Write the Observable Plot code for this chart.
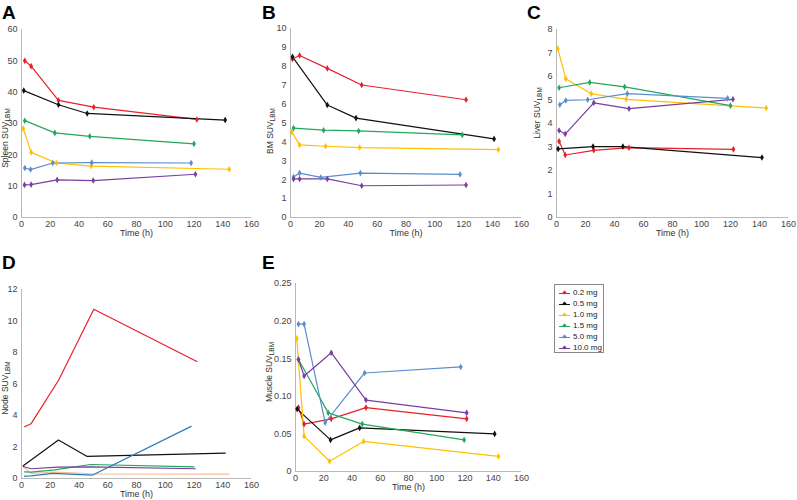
<!DOCTYPE html>
<html>
<head>
<meta charset="utf-8">
<script src="https://cdn.jsdelivr.net/npm/d3@7"></script>
<script src="https://cdn.jsdelivr.net/npm/@observablehq/plot@0.6"></script>
<style>
  html, body { margin: 0; padding: 0; background: #fff; }
  #wrap { position: relative; width: 797px; height: 500px; font-family: "Liberation Sans", Arial, sans-serif; overflow: hidden; }
  .panel { position: absolute; }
  .letter { position: absolute; font-weight: bold; font-size: 19px; line-height: 19px; color: #000; }
  .ylab { position: absolute; transform: translate(-50%, -50%) rotate(-90deg); white-space: nowrap; font-size: 8.5px; line-height: 9px; color: #333; }
  .ylab sub { font-size: 6.5px; line-height: 7px; vertical-align: -2px; }
  #legend { position: absolute; left: 554px; top: 284px; width: 50px; height: 69px; border: 1px solid #888; box-sizing: border-box; }
  .lg { position: absolute; left: 4px; height: 10px; font-size: 8px; line-height: 10px; color: #222; white-space: nowrap; }
  .sw { position: absolute; left: 0; top: 5px; width: 11px; height: 0; border-top: 1.2px solid; }
  .mk { position: absolute; left: 4px; top: 3px; width: 3px; height: 3px; transform: rotate(45deg); }
  .lt { position: absolute; left: 14px; top: 0; }
</style>
</head>
<body>
<div id="wrap"></div>
<script>
const doses = ["0.2 mg", "0.5 mg", "1.0 mg", "1.5 mg", "5.0 mg", "10.0 mg"];
const colorsMain = ["#e8202a", "#111111", "#ffc000", "#22a85a", "#5b8ccc", "#7a3ea0"];
const colorsNode = ["#e8202a", "#111111", "#f7bd92", "#22a85a", "#2a7ab8", "#7a3ea0"];
const timeTicks = [0, 20, 40, 60, 80, 100, 120, 140, 160];

// [dose, time (h), SUV]
const spleen = [
  ["0.2 mg", 2.3, 50.0], ["0.2 mg", 6.7, 48.3], ["0.2 mg", 25.7, 37.4], ["0.2 mg", 50.3, 35.2], ["0.2 mg", 122, 31.3],
  ["0.5 mg", 1.6, 40.5], ["0.5 mg", 25.7, 36.0], ["0.5 mg", 45.7, 33.2], ["0.5 mg", 141.7, 31.1],
  ["1.0 mg", 1.2, 28.4], ["1.0 mg", 6.7, 20.8], ["1.0 mg", 24.3, 17.4], ["1.0 mg", 48.5, 16.4], ["1.0 mg", 144.5, 15.4],
  ["1.5 mg", 2.3, 30.9], ["1.5 mg", 23.2, 27.0], ["1.5 mg", 47.5, 25.9], ["1.5 mg", 120, 23.5],
  ["5.0 mg", 2.3, 15.8], ["5.0 mg", 6.3, 15.3], ["5.0 mg", 21.8, 17.4], ["5.0 mg", 48.9, 17.5], ["5.0 mg", 118, 17.4],
  ["10.0 mg", 2.1, 10.4], ["10.0 mg", 6.7, 10.5], ["10.0 mg", 24.8, 12.0], ["10.0 mg", 49.9, 11.8], ["10.0 mg", 121, 13.8]
];
const marrow = [
  ["0.2 mg", 1.4, 8.39], ["0.2 mg", 6.3, 8.57], ["0.2 mg", 25.5, 7.89], ["0.2 mg", 49.3, 7.01], ["0.2 mg", 121.6, 6.23],
  ["0.5 mg", 1.4, 8.5], ["0.5 mg", 25.5, 5.95], ["0.5 mg", 45.4, 5.26], ["0.5 mg", 141, 4.16],
  ["1.0 mg", 0.9, 4.53], ["1.0 mg", 6.3, 3.84], ["1.0 mg", 24.3, 3.77], ["1.0 mg", 47.9, 3.70], ["1.0 mg", 144, 3.59],
  ["1.5 mg", 2.1, 4.73], ["1.5 mg", 22.9, 4.62], ["1.5 mg", 47.2, 4.58], ["1.5 mg", 119, 4.37],
  ["5.0 mg", 2.1, 2.14], ["5.0 mg", 6.3, 2.35], ["5.0 mg", 21, 2.12], ["5.0 mg", 48.4, 2.35], ["5.0 mg", 117.4, 2.28],
  ["10.0 mg", 2.1, 2.04], ["10.0 mg", 6.3, 2.04], ["10.0 mg", 25.5, 2.04], ["10.0 mg", 49.3, 1.68], ["10.0 mg", 121.6, 1.72]
];
const liver = [
  ["0.2 mg", 1.8, 3.24], ["0.2 mg", 6, 2.66], ["0.2 mg", 25.7, 2.86], ["0.2 mg", 50, 2.97], ["0.2 mg", 122, 2.90],
  ["0.5 mg", 1.1, 2.92], ["0.5 mg", 25.2, 3.02], ["0.5 mg", 45.8, 3.02], ["0.5 mg", 141.7, 2.55],
  ["1.0 mg", 0.9, 7.19], ["1.0 mg", 6.4, 5.90], ["1.0 mg", 24, 5.27], ["1.0 mg", 48.1, 5.03], ["1.0 mg", 144.6, 4.66],
  ["1.5 mg", 1.8, 5.52], ["1.5 mg", 22.9, 5.75], ["1.5 mg", 47, 5.56], ["1.5 mg", 120, 4.76],
  ["5.0 mg", 2.3, 4.80], ["5.0 mg", 6.4, 4.98], ["5.0 mg", 21.5, 5.01], ["5.0 mg", 48.8, 5.27], ["5.0 mg", 118, 5.07],
  ["10.0 mg", 1.8, 3.70], ["10.0 mg", 6, 3.55], ["10.0 mg", 25.7, 4.88], ["10.0 mg", 50, 4.63], ["10.0 mg", 121.7, 5.03]
];
const node = [
  ["0.2 mg", 2.1, 3.29], ["0.2 mg", 6.7, 3.48], ["0.2 mg", 25.7, 6.22], ["0.2 mg", 50.3, 10.75], ["0.2 mg", 122, 7.43],
  ["0.5 mg", 1.2, 0.81], ["0.5 mg", 25.7, 2.44], ["0.5 mg", 45.7, 1.40], ["0.5 mg", 141.7, 1.61],
  ["1.0 mg", 1.2, 0.74], ["1.0 mg", 6.7, 0.32], ["1.0 mg", 24.3, 0.40], ["1.0 mg", 48.5, 0.30], ["1.0 mg", 144.5, 0.28],
  ["1.5 mg", 2.1, 0.42], ["1.5 mg", 6.7, 0.40], ["1.5 mg", 23.2, 0.55], ["1.5 mg", 48, 0.89], ["1.5 mg", 120, 0.74],
  ["5.0 mg", 2.1, 0.15], ["5.0 mg", 6.7, 0.17], ["5.0 mg", 21.8, 0.32], ["5.0 mg", 49.2, 0.21], ["5.0 mg", 118, 3.31],
  ["10.0 mg", 1.2, 0.76], ["10.0 mg", 6.7, 0.62], ["10.0 mg", 24.8, 0.72], ["10.0 mg", 48, 0.74], ["10.0 mg", 121, 0.62]
];
const muscle = [
  ["0.2 mg", 2.1, 0.085], ["0.2 mg", 6.1, 0.063], ["0.2 mg", 25.3, 0.070], ["0.2 mg", 49.9, 0.085], ["0.2 mg", 121.2, 0.070],
  ["0.5 mg", 1.2, 0.083], ["0.5 mg", 24.8, 0.042], ["0.5 mg", 45.4, 0.058], ["0.5 mg", 141, 0.050],
  ["1.0 mg", 0.9, 0.177], ["1.0 mg", 6.1, 0.047], ["1.0 mg", 24.1, 0.0137], ["1.0 mg", 48.2, 0.040], ["1.0 mg", 143.7, 0.020],
  ["1.5 mg", 2.1, 0.149], ["1.5 mg", 23.2, 0.078], ["1.5 mg", 47.3, 0.063], ["1.5 mg", 119.4, 0.042],
  ["5.0 mg", 2.1, 0.196], ["5.0 mg", 6.1, 0.196], ["5.0 mg", 21, 0.065], ["5.0 mg", 48.9, 0.131], ["5.0 mg", 117, 0.139],
  ["10.0 mg", 2.1, 0.149], ["10.0 mg", 6.1, 0.127], ["10.0 mg", 25.3, 0.158], ["10.0 mg", 49.9, 0.095], ["10.0 mg", 121.2, 0.078]
];

const panels = [
  {letter: "A", rows: spleen, organ: "Spleen", yMax: 60, yStep: 10, fmt: d => String(d), colors: colorsMain, markers: true,
   left: 0, x0: 21, x1: 251, yTop: 29, yBot: 217, lx: 2, ly: 3, labX: 5.5, labY: 138},
  {letter: "B", rows: marrow, organ: "BM", yMax: 10, yStep: 1, fmt: d => String(d), colors: colorsMain, markers: true,
   left: 265, x0: 290, x1: 521, yTop: 28, yBot: 217, lx: 262, ly: 3, labX: 271, labY: 131},
  {letter: "C", rows: liver, organ: "Liver", yMax: 8, yStep: 1, fmt: d => String(d), colors: colorsMain, markers: true,
   left: 530, x0: 556, x1: 788, yTop: 29, yBot: 217, lx: 527, ly: 3, labX: 538, labY: 113},
  {letter: "D", rows: node, organ: "Node", yMax: 12, yStep: 2, fmt: d => String(d), colors: colorsNode, markers: false,
   left: 0, x0: 21, x1: 251, yTop: 289, yBot: 478, lx: 2, ly: 253, labX: 5.5, labY: 388},
  {letter: "E", rows: muscle, organ: "Muscle", yMax: 0.25, yStep: 0.05, fmt: d => d === 0 ? "0" : d.toFixed(2), colors: colorsMain, markers: true,
   left: 260, x0: 295, x1: 521, yTop: 283, yBot: 471, lx: 262, ly: 253, labX: 270, labY: 372}
];

const wrap = document.getElementById("wrap");

for (const p of panels) {
  const data = p.rows.map(([dose, t, v]) => ({dose, t, v}));
  const top = p.yTop - 10;
  const height = p.yBot + 26 - top;
  const width = p.x1 + 9 - p.left;
  const yTicks = d3.range(0, p.yMax + p.yStep / 2, p.yStep).map(d => +d.toFixed(4));
  const marks = [
    Plot.ruleX([0], {stroke: "#b8b8b8", strokeWidth: 1}),
    Plot.ruleY([0], {stroke: "#b8b8b8", strokeWidth: 1}),
    Plot.axisX({ticks: timeTicks, tickSize: 0, tickPadding: 3, label: null}),
    Plot.axisY({ticks: yTicks, tickSize: 0, tickPadding: 4, label: null, tickFormat: p.fmt}),
    Plot.text(["Time (h)"], {text: d => d, frameAnchor: "bottom", dy: 18, fontSize: 9, fill: "#333"}),
    Plot.line(data, {x: "t", y: "v", z: "dose", stroke: "dose", strokeWidth: 1.2})
  ];
  if (p.markers) {
    marks.push(Plot.dot(data, {x: "t", y: "v", fill: "dose", symbol: "diamond", r: 2, stroke: "none"}));
  }
  const chart = Plot.plot({
    width, height,
    marginLeft: p.x0 - p.left, marginRight: 9, marginTop: 10, marginBottom: 26,
    x: {domain: [0, 160]},
    y: {domain: [0, p.yMax]},
    color: {domain: doses, range: p.colors},
    style: {fontFamily: "'Liberation Sans', Arial, sans-serif", fontSize: "9px", color: "#444", background: "transparent", overflow: "visible"},
    marks
  });
  chart.classList.add("panel");
  chart.style.left = p.left + "px";
  chart.style.top = top + "px";
  wrap.appendChild(chart);

  const L = document.createElement("div");
  L.className = "letter";
  L.style.left = p.lx + "px";
  L.style.top = p.ly + "px";
  L.textContent = p.letter;
  wrap.appendChild(L);

  const Y = document.createElement("div");
  Y.className = "ylab";
  Y.style.left = p.labX + "px";
  Y.style.top = p.labY + "px";
  Y.innerHTML = p.organ + " SUV<sub>LBM</sub>";
  wrap.appendChild(Y);
}

// legend
const lg = document.createElement("div");
lg.id = "legend";
doses.forEach((d, i) => {
  const row = document.createElement("div");
  row.className = "lg";
  row.style.top = (3 + i * 11.07) + "px";
  row.innerHTML = `<span class="sw" style="border-color:${colorsMain[i]}"></span><span class="mk" style="background:${colorsMain[i]}"></span><span class="lt">${d}</span>`;
  lg.appendChild(row);
});
wrap.appendChild(lg);
</script>
</body>
</html>
